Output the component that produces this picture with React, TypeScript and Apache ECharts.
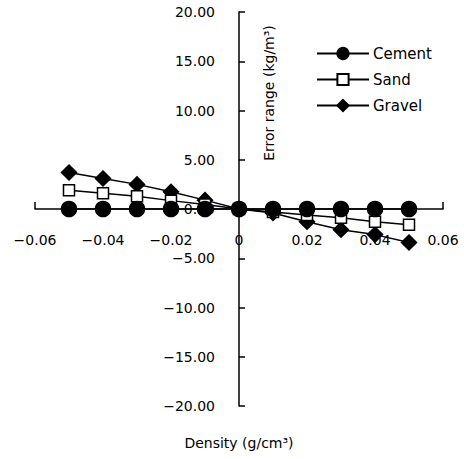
import React, { useEffect, useRef } from "react";
import * as echarts from "echarts";

const densities = [-0.05, -0.04, -0.03, -0.02, -0.01, 0, 0.01, 0.02, 0.03, 0.04, 0.05];
const cement = [0, 0, 0, 0, 0, 0, 0, 0, 0, 0, 0];
const sand = [1.9, 1.6, 1.3, 0.85, 0.45, 0, -0.3, -0.6, -0.9, -1.3, -1.6];
const gravel = [3.7, 3.1, 2.5, 1.75, 0.9, 0, -0.4, -1.3, -2.1, -2.6, -3.4];

const FONT = "DejaVu Sans";
const GRID = { left: 35, right: 21, top: 12, bottom: 53 };
const W = 464;
const H = 459;

export default function App() {
  const ref = useRef<HTMLDivElement>(null);
  useEffect(() => {
    if (!ref.current) return;
    const chart = echarts.init(ref.current, undefined, { renderer: "svg" });
    const pts = (ys: number[]) => densities.map((x, i) => [x, ys[i]]);
    const gw = W - GRID.left - GRID.right;
    const gh = H - GRID.top - GRID.bottom;
    const common = {
      type: "line",
      lineStyle: { color: "#000", width: 1.5 },
      itemStyle: { color: "#000", borderColor: "#000", borderWidth: 1.5 },
      showAllSymbol: true,
    };
    chart.setOption({
      animation: false,
      backgroundColor: "#fff",
      grid: { ...GRID, outerBoundsMode: "none", containLabel: false },
      legend: {
        orient: "vertical",
        left: 311,
        top: 41,
        itemWidth: 52,
        itemHeight: 14,
        itemGap: 11,
        textStyle: { fontFamily: FONT, fontSize: 15, color: "#000", padding: [0, 0, 0, -1] },
        data: ["Cement", "Sand", "Gravel"],
      },
      xAxis: {
        type: "value",
        position: "bottom",
        offset: -gh / 2,
        min: -0.06,
        max: 0.06,
        interval: 0.02,
        splitLine: { show: false },
        axisLine: { onZero: false, lineStyle: { color: "#000", width: 1.5 } },
        axisTick: { inside: true, length: 7, lineStyle: { color: "#000", width: 1.5 } },
        axisLabel: {
          margin: 24,
          fontFamily: FONT,
          fontSize: 14,
          color: "#000",
          hideOverlap: false,
          formatter: (v: number) => (Math.abs(v) < 1e-9 ? "0" : v.toFixed(2).replace("-", "\u2212")),
        },
      },
      yAxis: {
        type: "value",
        position: "left",
        offset: -gw / 2,
        min: -20,
        max: 20,
        interval: 5,
        splitLine: { show: false },
        axisLine: { onZero: false, lineStyle: { color: "#000", width: 1.5 } },
        axisTick: { inside: true, length: 6, lineStyle: { color: "#000", width: 1.5 } },
        axisLabel: {
          margin: 24,
          fontFamily: FONT,
          fontSize: 14,
          color: "#000",
          hideOverlap: false,
          formatter: (v: number) => v.toFixed(2).replace("-", "\u2212"),
        },
      },
      graphic: [
        {
          type: "text",
          x: 269,
          y: 93,
          rotation: Math.PI / 2,
          style: {
            text: "Error range (kg/m\u00b3)",
            fontFamily: FONT,
            fontSize: 14,
            fill: "#000",
            align: "center",
            verticalAlign: "middle",
          },
        },
        {
          type: "text",
          x: 239,
          y: 443,
          style: {
            text: "Density (g/cm\u00b3)",
            fontFamily: FONT,
            fontSize: 14,
            fill: "#000",
            align: "center",
            verticalAlign: "middle",
          },
        },
      ],
      series: [
        {
          ...common,
          name: "Gravel",
          data: pts(gravel),
          symbol: "diamond",
          symbolSize: 15,
          z: 2,
        },
        {
          ...common,
          name: "Sand",
          data: pts(sand),
          symbol: "rect",
          symbolSize: 11,
          itemStyle: { color: "#fff", borderColor: "#000", borderWidth: 1.5 },
          z: 3,
        },
        {
          ...common,
          name: "Cement",
          data: pts(cement),
          symbol: "circle",
          symbolSize: 15,
          z: 4,
        },
      ],
    });
    return () => chart.dispose();
  }, []);
  return <div ref={ref} style={{ width: W, height: H, position: "absolute", left: 0, top: 0 }} />;
}
